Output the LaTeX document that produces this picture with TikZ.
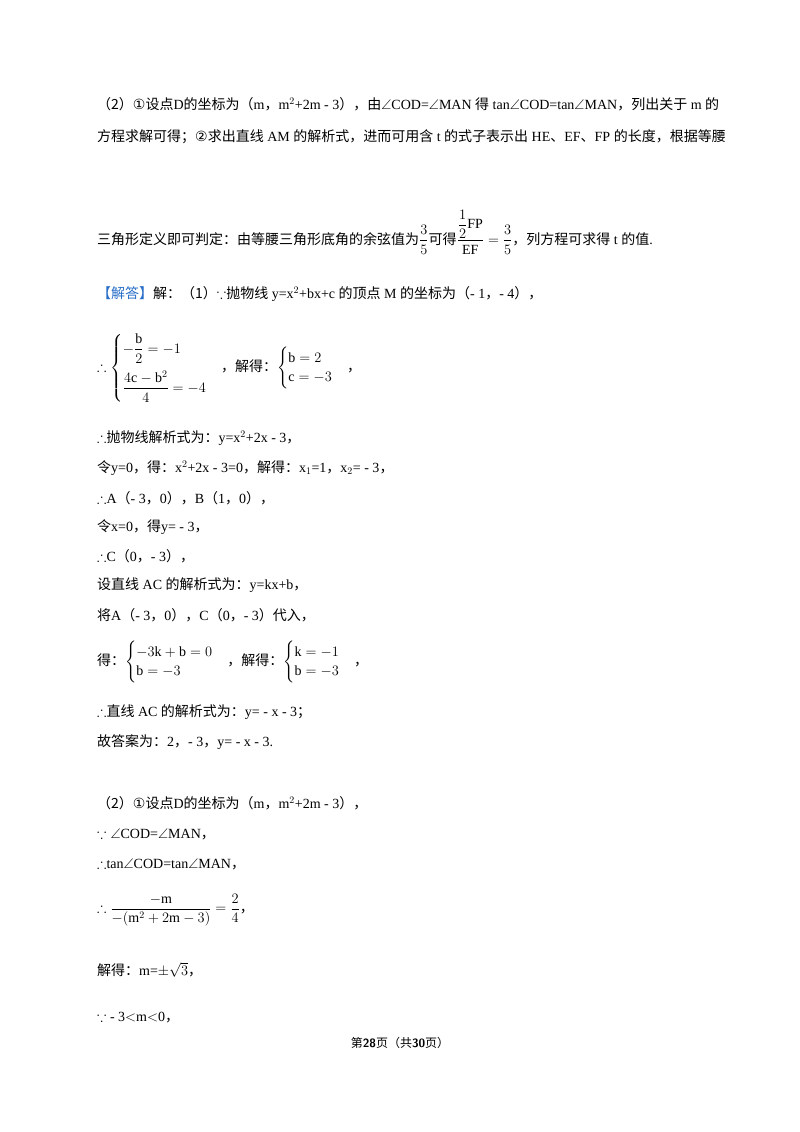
\documentclass[tikz,border=0pt]{standalone}
\usepackage{amsmath,amssymb}
\usepackage{fontspec}
\setmainfont{Liberation Serif}
\newfontfamily\zhf{Noto Sans CJK SC}
\newfontfamily\symf{DejaVu Sans}
\newcommand{\zh}[1]{{\zhf #1}}
\definecolor{ansblue}{RGB}{40,110,200}
\begin{document}
\begin{tikzpicture}[x=1pt,y=-1pt,
  ln/.style={anchor=west,inner sep=0pt,font=\fontsize{14}{16}\selectfont}]
\useasboundingbox[fill=white] (0,0) rectangle (800,1132);
\node[ln] (l1) at (97,104) {\zh{（2）}{\symf ①}\zh{设点}D\zh{的坐标为（}m\zh{，}m$^2$+2m - 3\zh{），由}$\angle$COD=$\angle$MAN \zh{得} tan$\angle$COD=tan$\angle$MAN\zh{，列出关于} m \zh{的}};
\node[ln] (l2) at (97,137) {\zh{方程求解可得；}{\symf ②}\zh{求出直线} AM \zh{的解析式，进而可用含} t \zh{的式子表示出} HE\zh{、}EF\zh{、}FP \zh{的长度，根据等腰}};
\node[ln] (l3) at (97,232) {\zh{三角形定义即可判定：由等腰三角形底角的余弦值为}$\dfrac{3}{5}$\zh{可得}$\dfrac{\dfrac{1}{2}\mathrm{FP}}{\mathrm{EF}}=\dfrac{3}{5}$\zh{，列方程可求得} t \zh{的值}.};
\node[ln] (l4) at (97,294) {\zh{\color{ansblue}【解答】}\zh{解：（1）}$\because$\zh{抛物线} y=x$^2$+bx+c \zh{的顶点} M \zh{的坐标为（}- 1\zh{，}- 4\zh{），}};
\node[ln] (l5) at (97,368) {$\therefore\begin{cases}-\dfrac{\mathrm{b}}{2}=-1\\[12pt] \dfrac{4\mathrm{c}-\mathrm{b}^2}{4}=-4\end{cases}$\zh{，解得：}$\begin{cases}\mathrm{b}=2\\ \mathrm{c}=-3\end{cases}$\zh{，}};
\node[ln] (l6) at (97,438) {$\therefore$\zh{抛物线解析式为：}y=x$^2$+2x - 3\zh{，}};
\node[ln] (l7) at (97,468) {\zh{令}y=0\zh{，得：}x$^2$+2x - 3=0\zh{，解得：}x$_1$=1\zh{，}x$_2$= - 3\zh{，}};
\node[ln] (l8) at (97,498) {$\therefore$A\zh{（}- 3\zh{，}0\zh{），}B\zh{（}1\zh{，}0\zh{），}};
\node[ln] (l9) at (97,527) {\zh{令}x=0\zh{，得}y= - 3\zh{，}};
\node[ln] (l10) at (97,556) {$\therefore$C\zh{（}0\zh{，}- 3\zh{），}};
\node[ln] (l11) at (97,585) {\zh{设直线} AC \zh{的解析式为：}y=kx+b\zh{，}};
\node[ln] (l12) at (97,615) {\zh{将}A\zh{（}- 3\zh{，}0\zh{），}C\zh{（}0\zh{，}- 3\zh{）代入，}};
\node[ln] (l13) at (97,662) {\zh{得：}$\begin{cases}-3\mathrm{k}+\mathrm{b}=0\\ \mathrm{b}=-3\end{cases}$\zh{，解得：}$\begin{cases}\mathrm{k}=-1\\ \mathrm{b}=-3\end{cases}$\zh{，}};
\node[ln] (l14) at (97,712) {$\therefore$\zh{直线} AC \zh{的解析式为：}y= - x - 3\zh{；}};
\node[ln] (l15) at (97,742) {\zh{故答案为：}2\zh{，}- 3\zh{，}y= - x - 3.};
\node[ln] (l16) at (97,803) {\zh{（2）}{\symf ①}\zh{设点}D\zh{的坐标为（}m\zh{，}m$^2$+2m - 3\zh{），}};
\node[ln] (l17) at (97,834) {$\because\angle$COD=$\angle$MAN\zh{，}};
\node[ln] (l18) at (97,864) {$\therefore$tan$\angle$COD=tan$\angle$MAN\zh{，}};
\node[ln] (l19) at (97,910) {$\therefore\dfrac{-\mathrm{m}}{-(\mathrm{m}^2+2\mathrm{m}-3)}=\dfrac{2}{4}$\zh{，}};
\node[ln] (l20) at (97,970) {\zh{解得：}m=$\pm\sqrt{3}$\zh{，}};
\node[ln] (l21) at (97,1017) {$\because$ - 3$<$m$<$0\zh{，}};
\node[inner sep=0pt,font=\fontsize{12}{14}\selectfont] (foot) at (400,1043) {\zh{第}{\bfseries\sffamily 28}\zh{页（共}{\bfseries\sffamily 30}\zh{页）}};
\end{tikzpicture}
\end{document}
